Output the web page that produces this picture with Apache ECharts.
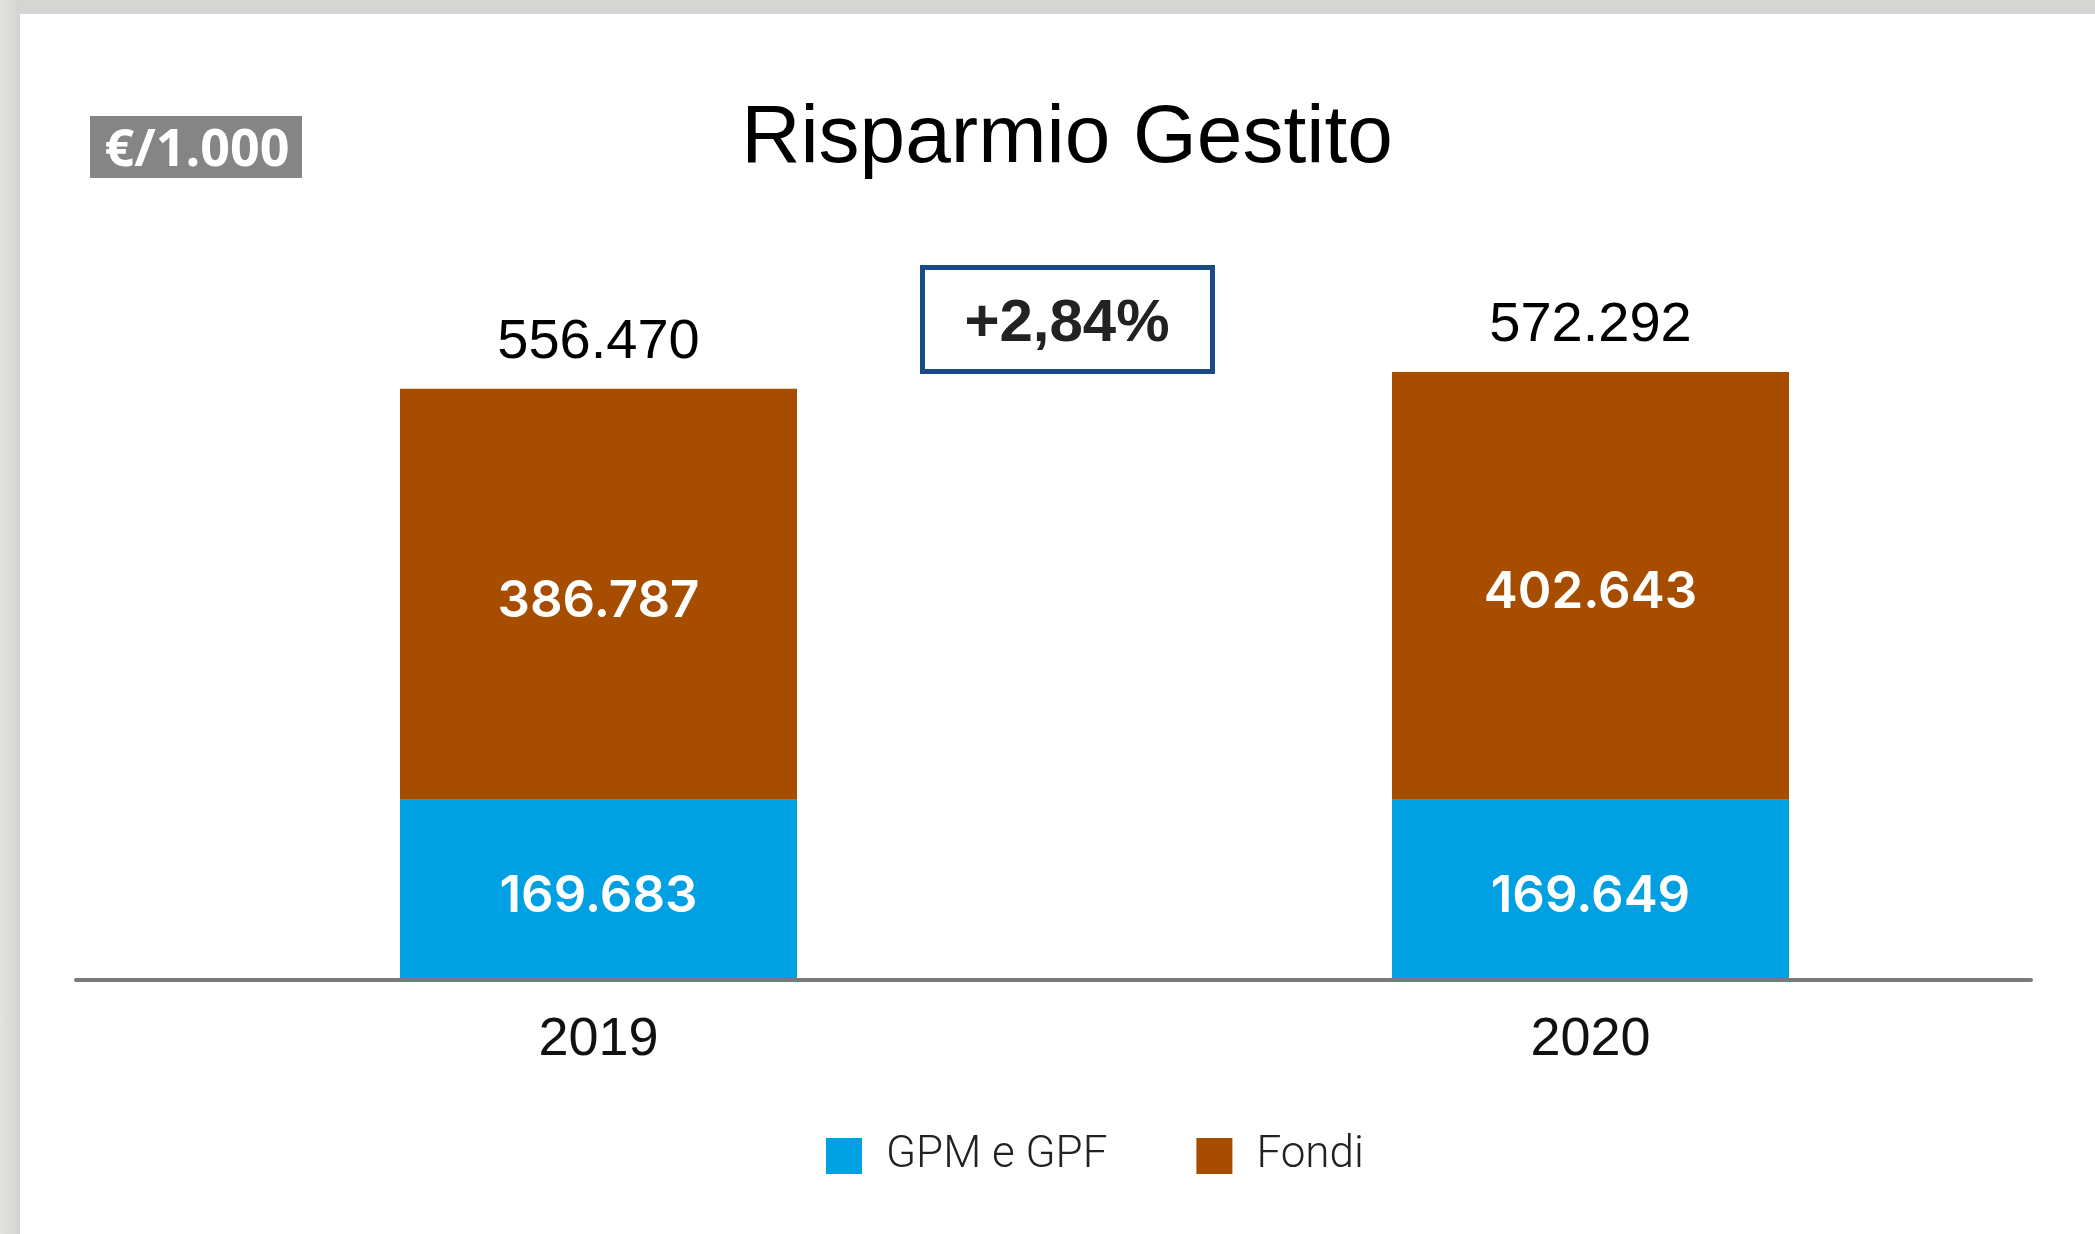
<!DOCTYPE html>
<html>
<head>
<meta charset="utf-8">
<title>Risparmio Gestito</title>
<script src="https://cdn.jsdelivr.net/npm/echarts@6/dist/echarts.min.js"></script>
<style>
  html, body { margin: 0; padding: 0; width: 2095px; height: 1234px; overflow: hidden; background: #d6d6d5; }
  #frameLeft { position: absolute; left: 0; top: 0; width: 20px; height: 1234px;
    background: linear-gradient(to right, #e3e3e2, #d3d3d2); }
  #panel { position: absolute; left: 20px; top: 14px; right: 0; bottom: 0; background: #ffffff; }
  #chart { position: absolute; left: 0; top: 0; width: 2095px; height: 1234px; }
</style>
</head>
<body>
<div id="frameLeft"></div>
<div id="panel"></div>
<div id="chart"></div>
<script>
// Managed savings, values in thousands of euro
const categories = ['2019', '2020'];
const gpmGpf = [169683, 169649];
const fondi = [386787, 402643];
const totals = [556470, 572292];
const seriesNames = ['GPM e GPF', 'Fondi'];

const COLOR_GPM = '#00a0e2';
const COLOR_FONDI = '#a64d00';

// Italian thousands separator
function fmt(v) {
  return String(Math.round(v)).replace(/\B(?=(\d{3})+(?!\d))/g, '.');
}

// Year-on-year change of the total
const change = (totals[1] / totals[0] - 1) * 100;
const changeText = (change >= 0 ? '+' : '') + change.toFixed(2).replace('.', ',') + '%';

const chart = echarts.init(document.getElementById('chart'), null, { renderer: 'canvas' });

const insideLabel = {
  show: true,
  position: 'inside',
  offset: [0, 7],
  color: '#ffffff',
  fontFamily: 'Inter',
  fontWeight: 600,
  fontSize: 51,
  formatter: p => fmt(p.value)
};

const option = {
  backgroundColor: 'transparent',
  animation: false,
  grid: [
    { left: 102.5, right: 8.5, top: 130, bottom: 254 },
    { left: 76, right: 64, top: 130, bottom: 254 }
  ],
  xAxis: [
    {
      type: 'category',
      gridIndex: 0,
      data: categories,
      axisLine: { show: false },
      axisTick: { show: false },
      axisLabel: {
        color: '#111111',
        fontFamily: 'Liberation Sans',
        fontSize: 54,
        margin: 33
      }
    },
    {
      type: 'category',
      gridIndex: 1,
      data: categories,
      z: 10,
      axisLine: { show: true, lineStyle: { color: '#7a7a7a', width: 4 } },
      axisTick: { show: false },
      axisLabel: { show: false }
    }
  ],
  yAxis: [
    { type: 'value', gridIndex: 0, min: 0, max: 800000, show: false, splitLine: { show: false } },
    { type: 'value', gridIndex: 1, min: 0, max: 800000, show: false, splitLine: { show: false } }
  ],
  legend: {
    data: seriesNames,
    left: 821,
    top: 1129,
    itemWidth: 36,
    itemHeight: 36,
    itemGap: 89,
    icon: 'rect',
    selectedMode: false,
    textStyle: {
      color: '#222222',
      fontFamily: 'Roboto',
      fontWeight: 300,
      fontSize: 44,
      padding: [0, 0, 0, 19]
    }
  },
  series: [
    {
      name: seriesNames[0],
      type: 'bar',
      stack: 'totale',
      barWidth: 397,
      xAxisIndex: 0,
      yAxisIndex: 0,
      itemStyle: { color: COLOR_GPM },
      label: insideLabel,
      data: gpmGpf
    },
    {
      name: seriesNames[1],
      type: 'bar',
      stack: 'totale',
      barWidth: 397,
      xAxisIndex: 0,
      yAxisIndex: 0,
      itemStyle: { color: COLOR_FONDI },
      label: insideLabel,
      data: fondi
    },
    {
      // stack totals written above each bar
      name: 'Totale',
      type: 'scatter',
      xAxisIndex: 0,
      yAxisIndex: 0,
      symbol: 'circle',
      symbolSize: 0,
      silent: true,
      itemStyle: { color: '#ffffff', opacity: 1 },
      label: {
        show: true,
        position: 'top',
        distance: 18,
        color: '#000000',
        opacity: 1,
        fontFamily: 'Liberation Sans',
        fontSize: 56,
        formatter: p => fmt(p.value)
      },
      data: totals
    }
  ],
  graphic: [
    {
      type: 'rect',
      shape: { x: 90, y: 116, width: 212, height: 62 },
      style: { fill: '#858585' }
    },
    {
      type: 'text',
      x: 197, y: 151,
      style: {
        text: '€/1.000',
        fill: '#ffffff',
        font: '700 52px "Open Sans"',
        align: 'center',
        verticalAlign: 'middle'
      }
    },
    {
      type: 'text',
      x: 1067, y: 139,
      style: {
        text: 'Risparmio Gestito',
        fill: '#000000',
        font: '82px "Liberation Sans"',
        align: 'center',
        verticalAlign: 'middle'
      }
    },
    {
      type: 'rect',
      shape: { x: 922.5, y: 267.5, width: 290, height: 104 },
      style: { fill: '#ffffff', stroke: '#1b4b84', lineWidth: 5 }
    },
    {
      type: 'text',
      x: 1067, y: 324,
      style: {
        text: changeText,
        fill: '#222222',
        font: 'bold 60px "Liberation Sans"',
        align: 'center',
        verticalAlign: 'middle'
      }
    }
  ]
};

chart.setOption(option);
</script>
</body>
</html>
